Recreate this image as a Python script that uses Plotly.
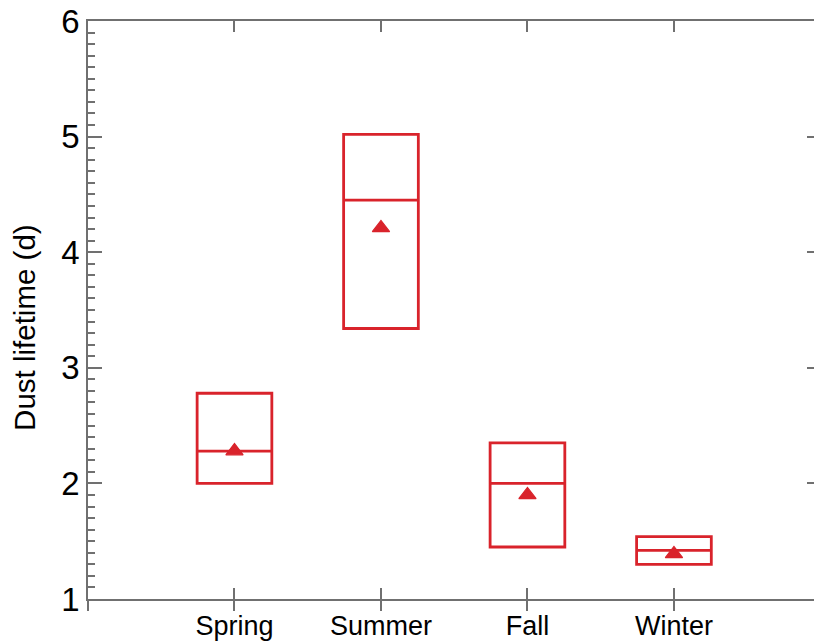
import plotly.graph_objects as go

# Seasonal dust lifetime statistics (days)
seasons = ["Spring", "Summer", "Fall", "Winter"]
season_pos = [1, 2, 3, 4]
q1_vals = [2.00, 3.34, 1.45, 1.30]
median_vals = [2.28, 4.45, 2.00, 1.42]
q3_vals = [2.78, 5.02, 2.35, 1.54]
mean_vals = [2.28, 4.21, 1.90, 1.39]

y_ticks = [1, 2, 3, 4, 5, 6]
y_title = "Dust lifetime (d)"

RED = "#d9232b"
AXIS = "#707070"
FONT = "Liberation Sans, Arial, Helvetica, sans-serif"
X_RANGE = [0, 4.956]
Y_RANGE = [1, 6]

fig = go.Figure()

# Interquartile boxes with median line, no whiskers
fig.add_trace(go.Box(
    x=season_pos,
    q1=q1_vals,
    median=median_vals,
    q3=q3_vals,
    lowerfence=q1_vals,
    upperfence=q3_vals,
    width=0.51,
    whiskerwidth=0,
    line=dict(color=RED, width=2.8),
    fillcolor="rgba(0,0,0,0)",
    boxpoints=False,
    showlegend=False,
    hoverinfo="skip",
))

# Seasonal means (on the overlay axes, which carry labels and outer ticks)
fig.add_trace(go.Scatter(
    x=season_pos,
    y=mean_vals,
    xaxis="x2",
    yaxis="y2",
    mode="markers",
    marker=dict(symbol="triangle-up", size=15, color=RED, line=dict(width=1.2, color=RED)),
    showlegend=False,
))

# Vertical axis title, set slightly below the plot's mid-height
fig.add_annotation(
    text=y_title,
    textangle=-90,
    xref="paper", yref="paper",
    x=0, y=0.469,
    xanchor="center", yanchor="middle",
    xshift=-63,
    showarrow=False,
    font=dict(size=29.5, family=FONT, color="black"),
)

fig.update_layout(
    width=814,
    height=644,
    margin=dict(l=88, r=0, t=21, b=45),
    paper_bgcolor="white",
    plot_bgcolor="white",
    font=dict(family=FONT, color="black"),
    xaxis=dict(
        range=X_RANGE,
        tickmode="array",
        tickvals=[0] + season_pos + [5],
        showticklabels=False,
        ticks="inside",
        ticklen=11,
        tickwidth=1.5,
        tickcolor=AXIS,
        showline=True,
        linecolor=AXIS,
        linewidth=1.5,
        mirror="ticks",
        showgrid=False,
        zeroline=False,
        automargin=False,
    ),
    xaxis2=dict(
        overlaying="x",
        anchor="y2",
        side="bottom",
        range=X_RANGE,
        tickmode="array",
        tickvals=[0] + season_pos + [5],
        ticktext=[""] + seasons + [""],
        tickfont=dict(size=27, family=FONT, color="black"),
        ticklabelstandoff=-8,
        ticks="outside",
        ticklen=11,
        tickwidth=1.5,
        tickcolor=AXIS,
        showline=False,
        showgrid=False,
        zeroline=False,
        automargin=False,
    ),
    yaxis=dict(
        range=Y_RANGE,
        tickmode="array",
        tickvals=y_ticks,
        tickfont=dict(size=33, family=FONT, color="black"),
        ticks="inside",
        ticklen=14,
        tickwidth=1.5,
        tickcolor=AXIS,
        minor=dict(dtick=0.1, ticks="inside", ticklen=7, tickwidth=1.5, tickcolor=AXIS, showgrid=False),
        showline=True,
        linecolor=AXIS,
        linewidth=1.5,
        showgrid=False,
        zeroline=False,
        automargin=False,
    ),
    yaxis2=dict(
        overlaying="y",
        anchor="x2",
        side="right",
        range=Y_RANGE,
        tickmode="array",
        tickvals=y_ticks,
        showticklabels=False,
        ticks="inside",
        ticklen=7,
        tickwidth=1.5,
        tickcolor=AXIS,
        showline=False,
        showgrid=False,
        zeroline=False,
        automargin=False,
    ),
)

fig.write_html("out.html")
